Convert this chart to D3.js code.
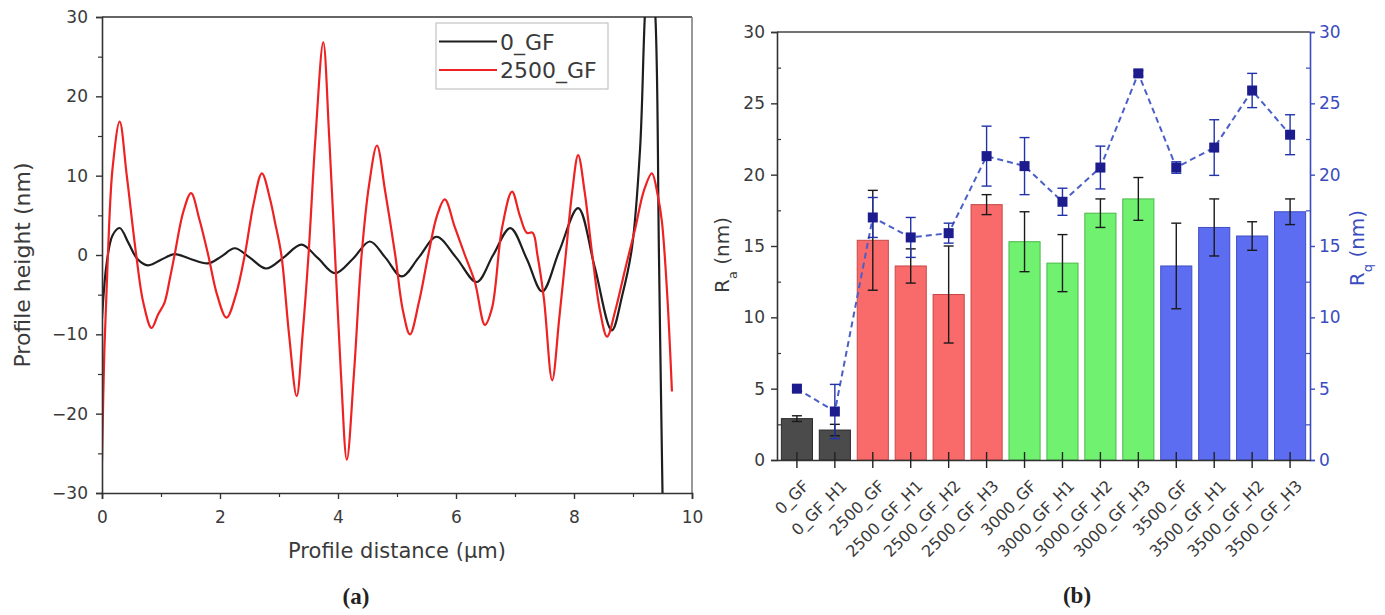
<!DOCTYPE html>
<html>
<head>
<meta charset="utf-8">
<script src="https://cdn.jsdelivr.net/npm/d3@7"></script>
<style>
  html, body { margin: 0; padding: 0; background: #ffffff; }
  svg { display: block; }
  text { font-family: "DejaVu Sans", sans-serif; }
</style>
</head>
<body>
<svg id="chart" width="1385" height="615"></svg>
<script>
// ---------------- DATA ----------------
// Panel (a): profile height (nm) vs profile distance (µm)
const profile0GF = [
  [0,-8],[0.08,-1],[0.18,2.5],[0.3,3.4],[0.45,1.5],[0.6,-0.5],[0.78,-1.3],[1.0,-0.6],[1.23,0.1],
  [1.5,-0.5],[1.8,-1.05],[2.02,-0.2],[2.25,0.85],[2.5,-0.3],[2.78,-1.7],[3.08,-0.3],[3.38,1.3],
  [3.66,-0.4],[3.95,-2.3],[4.25,-0.5],[4.54,1.7],[4.8,-0.3],[5.08,-2.7],[5.37,-0.3],[5.67,2.3],
  [6.0,-0.3],[6.35,-3.4],[6.63,0],[6.92,3.4],[7.2,-0.5],[7.46,-4.6],[7.75,0.5],[8.07,5.9],
  [8.35,-1.5],[8.64,-9.5],[8.82,-5],[8.98,0.8],[9.12,13.4],[9.2,30],[9.28,40],[9.38,30],
  [9.44,0],[9.5,-30],[9.52,-36]
];
const profile2500GF = [
  [0,-26],[0.04,-12],[0.1,0],[0.18,11],[0.3,16.8],[0.42,10],[0.58,0],[0.7,-6],[0.84,-9.2],
  [0.95,-7.5],[1.06,-6],[1.15,-3],[1.23,0],[1.38,5.5],[1.51,7.8],[1.65,4.5],[1.8,0],[1.95,-5],
  [2.11,-7.9],[2.27,-5],[2.42,0],[2.57,6.5],[2.71,10.3],[2.85,7],[2.93,4.2],[3.04,0],[3.17,-10],
  [3.3,-17.8],[3.4,-10],[3.5,0],[3.62,15],[3.75,26.8],[3.85,15],[3.95,0],[4.05,-15],[4.15,-25.8],
  [4.27,-15],[4.4,0],[4.53,9],[4.66,13.8],[4.8,8],[4.97,0],[5.1,-7],[5.22,-10],[5.37,-6],[5.53,0],
  [5.68,5],[5.81,7],[5.98,3.5],[6.15,0],[6.32,-3.4],[6.49,-8.8],[6.61,-6.7],[6.78,3.4],[6.95,8],
  [7.08,5],[7.2,2.8],[7.3,2.8],[7.38,0],[7.49,-5.5],[7.63,-15.8],[7.75,-8],[7.86,0],[7.97,8],
  [8.07,12.6],[8.18,8],[8.31,0],[8.44,-7],[8.56,-10.3],[8.7,-7],[8.87,-1.7],[9.04,3.4],[9.18,8],
  [9.32,10.3],[9.42,7.5],[9.49,4.2],[9.58,-5],[9.66,-17.2]
];
const profileSeries = ["0_GF", "2500_GF"];
const profileXTicks = [0, 2, 4, 6, 8, 10];
const profileYTicks = [-30, -20, -10, 0, 10, 20, 30];

// Panel (b): Ra (bars, left axis) and Rq (points, right axis)
const categories = ["0_GF","0_GF_H1","2500_GF","2500_GF_H1","2500_GF_H2","2500_GF_H3",
  "3000_GF","3000_GF_H1","3000_GF_H2","3000_GF_H3","3500_GF","3500_GF_H1","3500_GF_H2","3500_GF_H3"];
const raValues = [2.9, 2.1, 15.4, 13.6, 11.6, 17.9, 15.3, 13.8, 17.3, 18.3, 13.6, 16.3, 15.7, 17.4];
const raErrors = [0.2, 0.4, 3.5, 1.2, 3.4, 0.7, 2.1, 2.0, 1.0, 1.5, 3.0, 2.0, 1.0, 0.9];
const rqValues = [5.0, 3.4, 17.0, 15.6, 15.9, 21.3, 20.6, 18.1, 20.5, 27.1, 20.5, 21.9, 25.9, 22.8];
const rqErrors = [0.2, 1.9, 1.4, 1.4, 0.7, 2.1, 2.0, 0.95, 1.5, 0.2, 0.4, 1.95, 1.2, 1.4];
const rTicks = [0, 5, 10, 15, 20, 25, 30];

// ---------------- STYLE ----------------
const groupColor = { "0": "#4b4b4b", "2500": "#f96a6a", "3000": "#70f270", "3500": "#5d6df2" };
const groupStroke = { "0": "#2a2a2a", "2500": "#c84848", "3000": "#48b848", "3500": "#3f4fc0" };
const lineColors = { "0_GF": "#1e1e1e", "2500_GF": "#ee2222" };
const axisBlue = "#3b4cc0";
const textColor = "#3a3a3a";

const svg = d3.select("#chart");

// ================= PANEL (a) =================
const A = { left: 102, right: 692, top: 17, bottom: 493 };
const xA = d3.scaleLinear().domain([0, 10]).range([A.left, A.right]);
const yA = d3.scaleLinear().domain([-30, 30]).range([A.bottom, A.top]);

svg.append("defs").append("clipPath").attr("id", "clipA")
  .append("rect").attr("x", A.left).attr("y", A.top)
  .attr("width", A.right - A.left).attr("height", A.bottom - A.top);

const gA = svg.append("g");

// frame top/right
gA.append("line").attr("x1", A.left).attr("x2", A.right).attr("y1", A.top).attr("y2", A.top)
  .attr("stroke", "#333").attr("stroke-width", 1.5);
gA.append("line").attr("x1", A.right).attr("x2", A.right).attr("y1", A.top).attr("y2", A.bottom)
  .attr("stroke", "#777").attr("stroke-width", 1.5);

const lineGen = d3.line().x(d => xA(d[0])).y(d => yA(d[1])).curve(d3.curveCatmullRom.alpha(0.5));
const curves = gA.append("g").attr("clip-path", "url(#clipA)");
curves.append("path").datum(profile0GF).attr("d", lineGen)
  .attr("fill", "none").attr("stroke", lineColors["0_GF"]).attr("stroke-width", 2.2);
curves.append("path").datum(profile2500GF).attr("d", lineGen)
  .attr("fill", "none").attr("stroke", lineColors["2500_GF"]).attr("stroke-width", 2.2);

function styleAxis(g, color) {
  g.select(".domain").attr("stroke", color).attr("stroke-width", 1.6);
  g.selectAll(".tick line").attr("stroke", color).attr("stroke-width", 1.4);
  g.selectAll(".tick text").attr("fill", color === "#333" ? textColor : color)
    .style("font-family", "DejaVu Sans").style("font-size", "17px");
}

// left axis
const axLA = gA.append("g").attr("transform", `translate(${A.left},0)`)
  .call(d3.axisLeft(yA).tickValues(profileYTicks).tickSize(6).tickPadding(8));
styleAxis(axLA, "#333");
gA.append("g").attr("transform", `translate(${A.left},0)`)
  .call(d3.axisLeft(yA).tickValues(d3.range(-25, 30, 10)).tickSize(4).tickFormat(""))
  .call(g => { g.select(".domain").remove(); g.selectAll("line").attr("stroke", "#333").attr("stroke-width", 1.2); });

// bottom axis
const axBA = gA.append("g").attr("transform", `translate(0,${A.bottom})`)
  .call(d3.axisBottom(xA).tickValues(profileXTicks).tickSize(6).tickPadding(12));
styleAxis(axBA, "#333");
gA.append("g").attr("transform", `translate(0,${A.bottom})`)
  .call(d3.axisBottom(xA).tickValues([1, 3, 5, 7, 9]).tickSize(4).tickFormat(""))
  .call(g => { g.select(".domain").remove(); g.selectAll("line").attr("stroke", "#333").attr("stroke-width", 1.2); });

// axis titles
gA.append("text").attr("x", (A.left + A.right) / 2).attr("y", 558)
  .attr("text-anchor", "middle").attr("fill", textColor)
  .style("font-size", "21px").text("Profile distance (µm)");
gA.append("text").attr("transform", `translate(30,${(A.top + A.bottom) / 2 + 10}) rotate(-90)`)
  .attr("text-anchor", "middle").attr("fill", textColor)
  .style("font-size", "22px").text("Profile height (nm)");

// legend
const leg = gA.append("g");
leg.append("rect").attr("x", 436).attr("y", 23).attr("width", 172).attr("height", 66)
  .attr("fill", "#fff").attr("stroke", "#c4c4c4").attr("stroke-width", 1.2);
profileSeries.forEach((s, i) => {
  const yy = 41.5 + i * 28.5;
  leg.append("line").attr("x1", 439).attr("x2", 497).attr("y1", yy).attr("y2", yy)
    .attr("stroke", lineColors[s]).attr("stroke-width", 2.2);
  leg.append("text").attr("x", 500).attr("y", yy + 8).attr("fill", textColor)
    .style("font-size", "22px").text(s);
});

// caption
svg.append("text").attr("x", 356).attr("y", 604).attr("text-anchor", "middle")
  .style("font-family", "Liberation Serif").style("font-weight", "bold").style("font-size", "23px")
  .attr("fill", "#222").text("(a)");

// ================= PANEL (b) =================
const B = { left: 777, right: 1310, top: 32, bottom: 460 };
const xB = d3.scaleBand().domain(categories).range([B.left, B.right]).paddingInner(0.18).paddingOuter(0.115);
const yB = d3.scaleLinear().domain([0, 30]).range([B.bottom, B.top]);
const yBR = d3.scaleLinear().domain([0, 30]).range([B.bottom, B.top]);
const gB = svg.append("g");
const groupOf = c => c.split("_")[0];

// top frame
gB.append("line").attr("x1", B.left).attr("x2", B.right).attr("y1", B.top).attr("y2", B.top)
  .attr("stroke", "#444").attr("stroke-width", 1.5);

// bars
gB.selectAll("rect.bar").data(categories).join("rect").attr("class", "bar")
  .attr("x", c => xB(c)).attr("width", xB.bandwidth())
  .attr("y", (c, i) => yB(raValues[i])).attr("height", (c, i) => yB(0) - yB(raValues[i]))
  .attr("fill", c => groupColor[groupOf(c)]).attr("stroke", c => groupStroke[groupOf(c)]).attr("stroke-width", 1);

// Ra error bars
const cx = c => xB(c) + xB.bandwidth() / 2;
const raErr = gB.append("g").attr("stroke", "#1a1a1a").attr("stroke-width", 1.4);
categories.forEach((c, i) => {
  const x0 = cx(c), hi = yB(raValues[i] + raErrors[i]), lo = yB(raValues[i] - raErrors[i]);
  raErr.append("line").attr("x1", x0).attr("x2", x0).attr("y1", hi).attr("y2", lo);
  raErr.append("line").attr("x1", x0 - 5).attr("x2", x0 + 5).attr("y1", hi).attr("y2", hi);
  raErr.append("line").attr("x1", x0 - 5).attr("x2", x0 + 5).attr("y1", lo).attr("y2", lo);
});

// Rq dashed line
gB.append("path").datum(categories)
  .attr("d", d3.line().x(c => cx(c)).y((c, i) => yBR(rqValues[i])))
  .attr("fill", "none").attr("stroke", "#4a5fc8").attr("stroke-width", 2).attr("stroke-dasharray", "6,4");

// Rq error bars
const rqErr = gB.append("g").attr("stroke", "#2233aa").attr("stroke-width", 1.4);
categories.forEach((c, i) => {
  const x0 = cx(c), hi = yBR(rqValues[i] + rqErrors[i]), lo = yBR(rqValues[i] - rqErrors[i]);
  rqErr.append("line").attr("x1", x0).attr("x2", x0).attr("y1", hi).attr("y2", lo);
  rqErr.append("line").attr("x1", x0 - 5).attr("x2", x0 + 5).attr("y1", hi).attr("y2", hi);
  rqErr.append("line").attr("x1", x0 - 5).attr("x2", x0 + 5).attr("y1", lo).attr("y2", lo);
});

// Rq points
gB.selectAll("rect.pt").data(categories).join("rect").attr("class", "pt")
  .attr("x", c => cx(c) - 5).attr("y", (c, i) => yBR(rqValues[i]) - 5)
  .attr("width", 10).attr("height", 10).attr("fill", "#1c1c8e");

// left axis
const axLB = gB.append("g").attr("transform", `translate(${B.left},0)`)
  .call(d3.axisLeft(yB).tickValues(rTicks).tickSize(6).tickPadding(6));
styleAxis(axLB, "#333");
gB.append("g").attr("transform", `translate(${B.left},0)`)
  .call(d3.axisLeft(yB).tickValues(d3.range(2.5, 30, 5)).tickSize(-4).tickFormat(""))
  .call(g => { g.select(".domain").remove(); g.selectAll("line").attr("stroke", "#333").attr("stroke-width", 1.2); });

// right axis
const axRB = gB.append("g").attr("transform", `translate(${B.right},0)`)
  .call(d3.axisRight(yBR).tickValues(rTicks).tickSize(5).tickPadding(4));
styleAxis(axRB, axisBlue);
gB.append("g").attr("transform", `translate(${B.right},0)`)
  .call(d3.axisRight(yBR).tickValues(d3.range(2.5, 30, 5)).tickSize(-4).tickFormat(""))
  .call(g => { g.select(".domain").remove(); g.selectAll("line").attr("stroke", axisBlue).attr("stroke-width", 1.2); });

// bottom axis
const axBB = gB.append("g").attr("transform", `translate(0,${B.bottom})`)
  .call(d3.axisBottom(xB).tickSize(8).tickSizeOuter(0));
axBB.select(".domain").attr("stroke", "#333").attr("stroke-width", 1.6);
axBB.selectAll(".tick line").attr("y1", -8).attr("stroke", "#222").attr("stroke-width", 1.4);
axBB.selectAll(".tick text")
  .attr("x", 0).attr("y", 0).attr("dy", 0)
  .attr("transform", "translate(13,27) rotate(-45)")
  .attr("text-anchor", "end").attr("fill", textColor)
  .style("font-family", "DejaVu Sans").style("font-size", "16px");

// axis titles
const raT = gB.append("text").attr("transform", `translate(729,255) rotate(-90)`)
  .attr("text-anchor", "middle").attr("fill", textColor).style("font-size", "20px");
raT.append("tspan").text("R");
raT.append("tspan").attr("baseline-shift", "sub").style("font-size", "13px").text("a");
raT.append("tspan").text(" (nm)");
const rqT = gB.append("text").attr("transform", `translate(1364,248) rotate(-90)`)
  .attr("text-anchor", "middle").attr("fill", axisBlue).style("font-size", "20px");
rqT.append("tspan").text("R");
rqT.append("tspan").attr("baseline-shift", "sub").style("font-size", "13px").text("q");
rqT.append("tspan").text(" (nm)");

// caption
svg.append("text").attr("x", 1077).attr("y", 603).attr("text-anchor", "middle")
  .style("font-family", "Liberation Serif").style("font-weight", "bold").style("font-size", "23px")
  .attr("fill", "#222").text("(b)");
</script>
</body>
</html>
